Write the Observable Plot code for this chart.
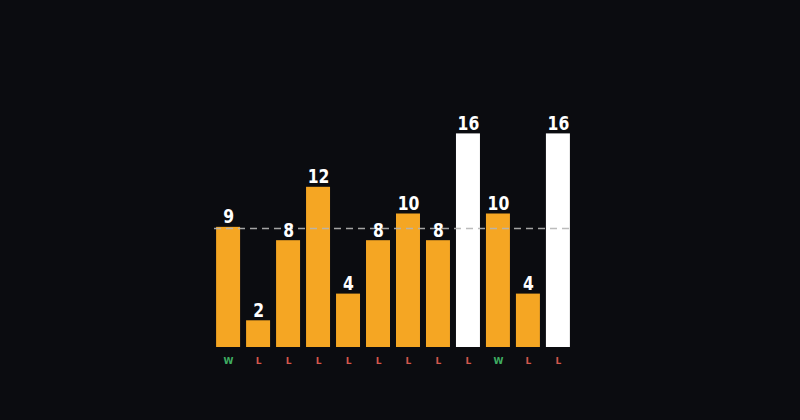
<!DOCTYPE html>
<html>
<head>
<meta charset="utf-8">
<script src="https://cdn.jsdelivr.net/npm/d3@7"></script>
<script src="https://cdn.jsdelivr.net/npm/@observablehq/plot@0.6"></script>
<style>
  html, body { margin: 0; padding: 0; background: #0b0c10; }
  #chart { width: 800px; height: 420px; }
</style>
</head>
<body>
<div id="chart"></div>
<script>
const games = ["G1","G2","G3","G4","G5","G6","G7","G8","G9","G10","G11","G12"];
const values = [9, 2, 8, 12, 4, 8, 10, 8, 16, 10, 4, 16];
const results = ["W","L","L","L","L","L","L","L","L","W","L","L"];
const highlight = [false,false,false,false,false,false,false,false,true,false,false,true];

const data = games.map((g, i) => ({game: g, value: values[i], result: results[i], hi: highlight[i]}));
const avg = d3.mean(values);

const chart = Plot.plot({
  width: 800,
  height: 420,
  marginTop: 80,
  marginBottom: 73,
  marginLeft: 214,
  marginRight: 228,
  style: {background: "#0b0c10"},
  x: {domain: games, paddingInner: 0.2, paddingOuter: 0.07, round: false, axis: null},
  y: {domain: [0, 20], axis: null},
  marks: [
    Plot.barY(data, {x: "game", y: "value", fill: d => d.hi ? "#ffffff" : "#f5a623"}),
    Plot.ruleY([avg], {stroke: "#b5b5b5", strokeWidth: 1.5, strokeDasharray: "7,5", strokeOpacity: 0.9}),
    Plot.text(data, {x: "game", y: "value", text: d => String(d.value), dy: -4, lineAnchor: "bottom",
      fill: "#ffffff", fontSize: 20, fontWeight: "bold", fontFamily: "'DejaVu Sans', sans-serif"}),
    Plot.text(data, {x: "game", y: 0, text: "result", dy: 14,
      fill: d => d.result === "W" ? "#3fae62" : "#d2574c", fontSize: 9, fontWeight: "bold", fontFamily: "'DejaVu Sans', sans-serif"})
  ]
});
document.getElementById("chart").appendChild(chart);
d3.select(chart).selectAll('g[font-size="20"] text').each(function() {
  const t = this.getAttribute("transform") || "";
  this.setAttribute("transform", t + " scale(0.78,1)");
});
</script>
</body>
</html>
